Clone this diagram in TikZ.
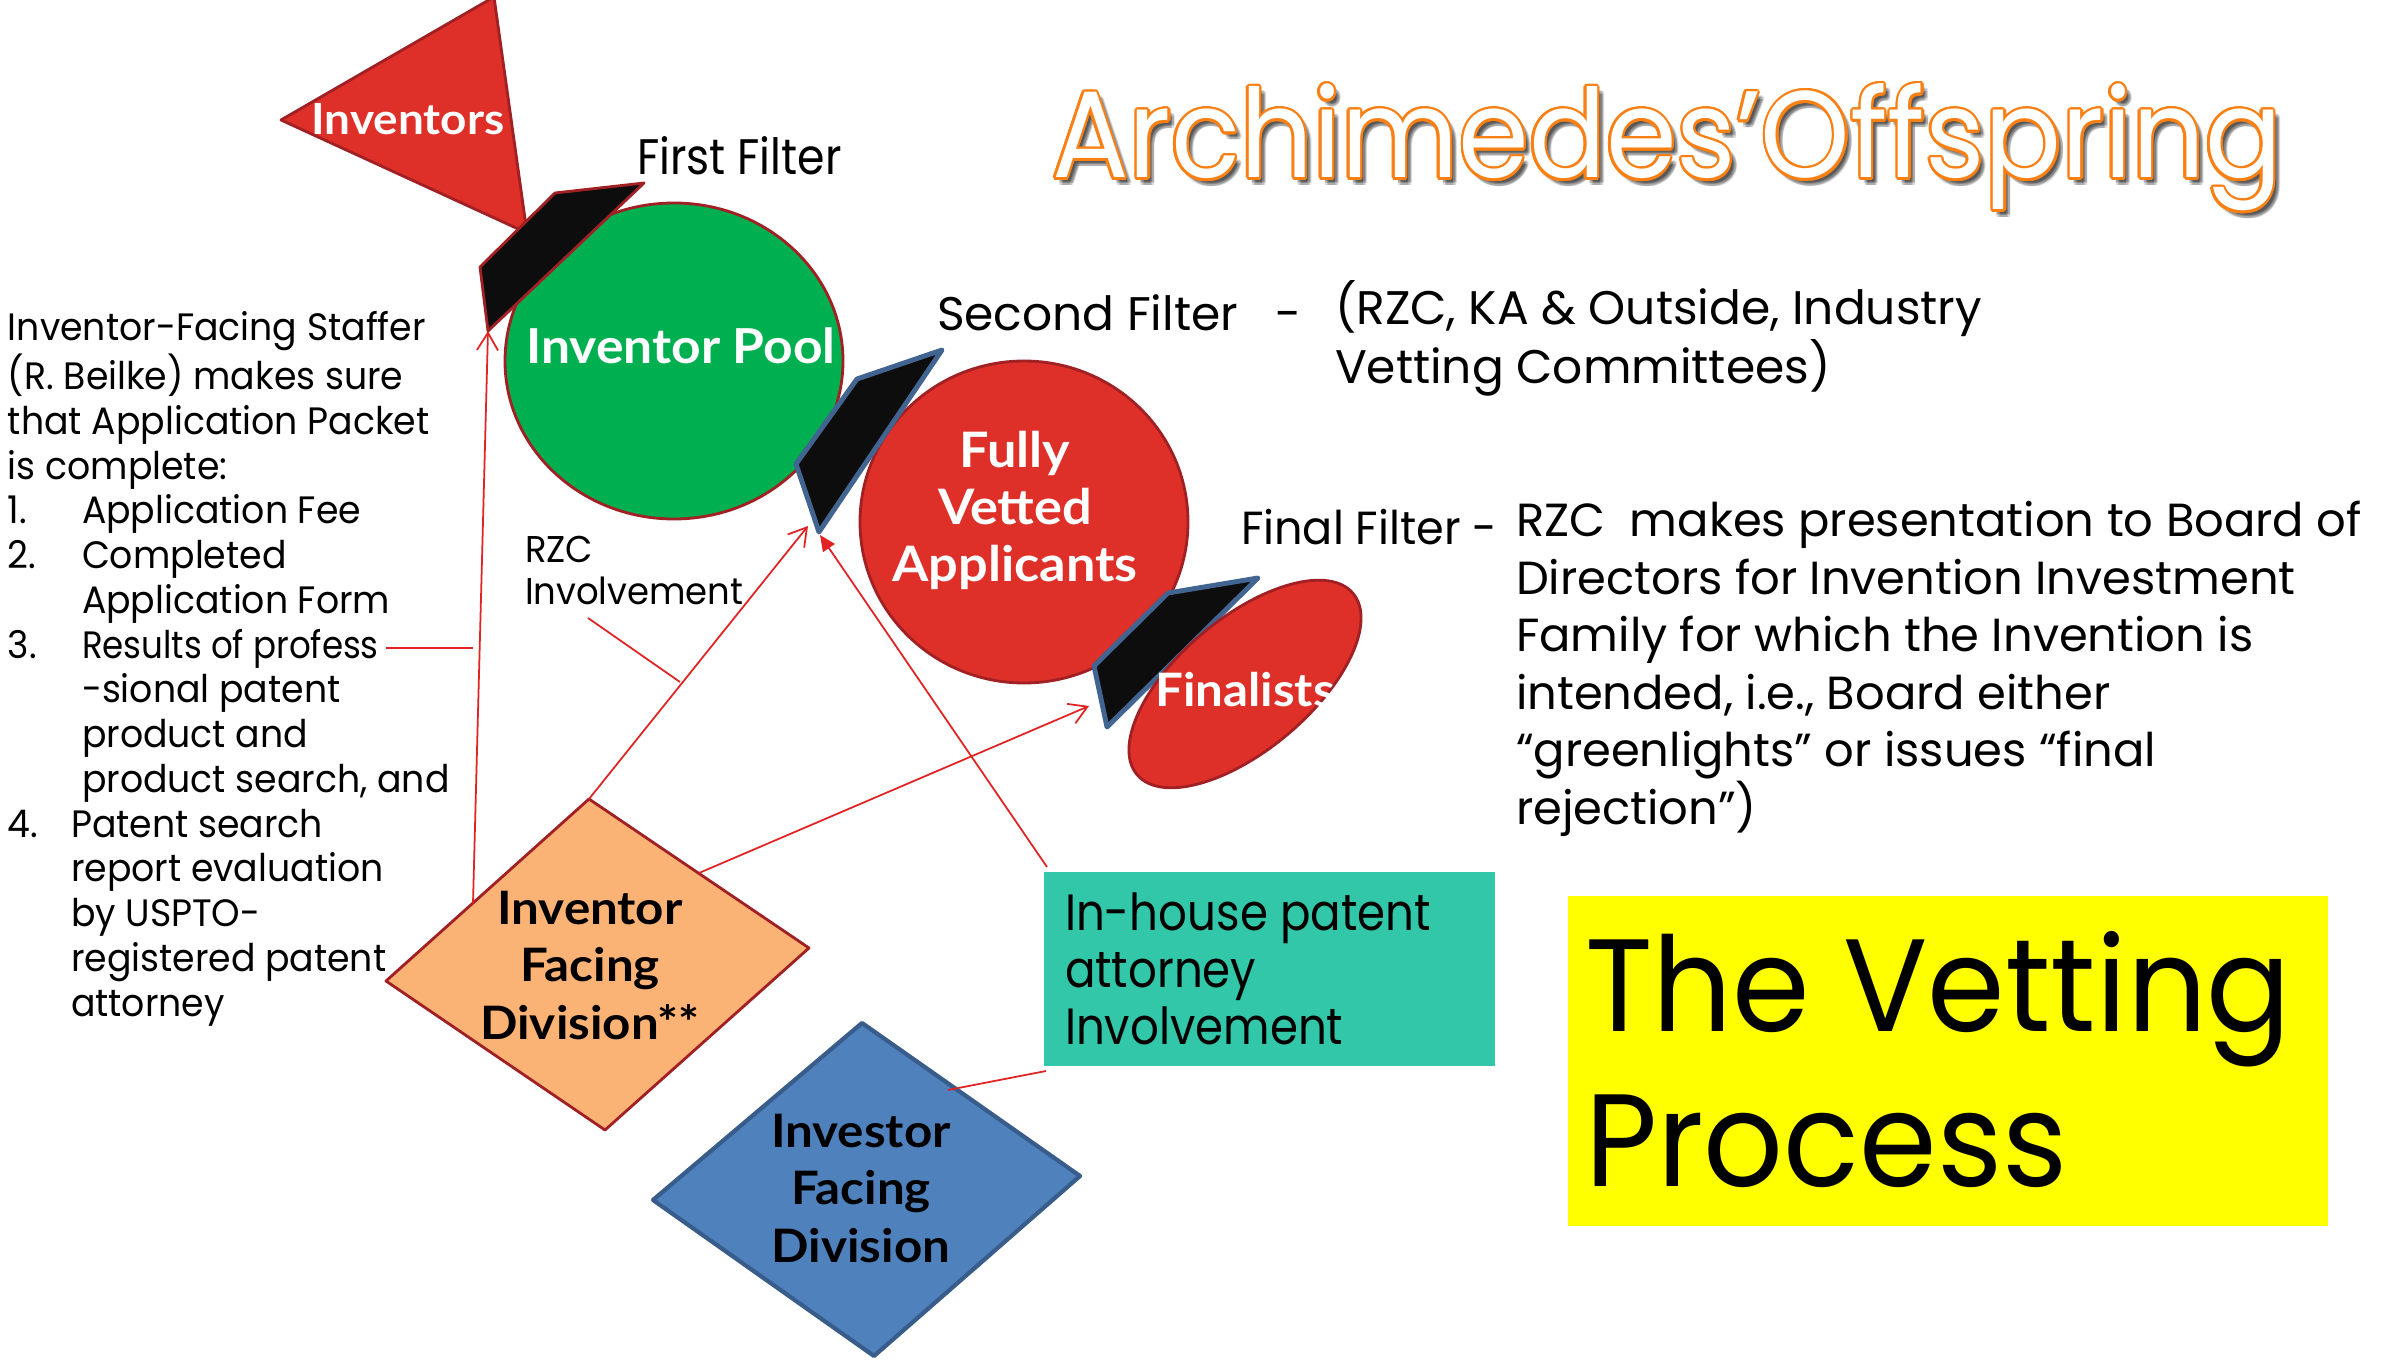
\documentclass[tikz,border=0pt]{standalone}
\usepackage{fontspec}
\setmainfont{Poppins}
\newfontfamily\labfont{Lato}[FakeStretch=1.07]
\newfontfamily\pA{Poppins}[FakeStretch=0.95]
\newfontfamily\pB{Poppins}[FakeStretch=0.885]
\newfontfamily\pT{Poppins}[FakeStretch=0.925]
\newfontfamily\pC{Poppins}[FakeStretch=0.96]
\usetikzlibrary{arrows.meta,calc}
\definecolor{cred}{RGB}{222,47,41}
\definecolor{cdred}{RGB}{160,32,36}
\definecolor{cgreen}{RGB}{0,176,80}
\definecolor{corange}{RGB}{251,178,117}
\definecolor{cblue}{RGB}{79,129,189}
\definecolor{cblueline}{RGB}{56,93,138}
\definecolor{cteal}{RGB}{51,199,170}
\definecolor{cyellow}{RGB}{255,255,0}
\definecolor{cfline}{RGB}{66,100,145}
\definecolor{carrow}{RGB}{225,35,35}
\definecolor{ctitle}{RGB}{250,128,20}
\newcommand{\fs}[2]{\fontsize{#1}{#2}\selectfont}
\newcommand{\ttl}{Archimedes’Offspring}
\newlength{\indA}\setlength{\indA}{0.74cm}
\newlength{\indB}\setlength{\indB}{0.63cm}
\tikzset{
  txt/.style={inner sep=0pt, outer sep=0pt, text=black},
  lab/.style={inner sep=0pt, outer sep=0pt, text=white, align=center},
  blab/.style={inner sep=0pt, outer sep=0pt, text=black, align=center},
  outl/.style={draw=cdred, line width=0.8pt, line join=round},
  filterA/.style={fill=black!95, draw=cdred, line width=0.8pt, line join=round},
  filterB/.style={fill=black!95, draw=cfline, line width=1.4pt, line join=round},
  conn/.style={draw=carrow, line width=0.5pt},
  openarrow/.style={conn, -{Straight Barb[length=5pt,width=6pt]}},
  fillarrow/.style={conn, -{Triangle[length=4.5pt,width=4pt]}},
  titlestyle/.style={inner sep=0pt, outer sep=0pt, anchor=base west, font=\pT\fs{35pt}{40pt}},
}
\begin{document}
\begin{tikzpicture}[x=0.01cm, y=-0.01cm]
\useasboundingbox (0,0) rectangle (2381,1361);
\fill[white] (0,0) rectangle (2381,1361);

% ---- shapes ----
\filldraw[fill=cred, outl] (281,120) -- (494,-3) -- (527,233) -- cycle;
\filldraw[fill=cgreen, outl] (674,361) ellipse [x radius=169, y radius=158];
\filldraw[filterA] (480,267) -- (555,193) -- (644,183) -- (488,331) -- cycle;
\filldraw[fill=cred, outl] (1024,522) ellipse [x radius=164, y radius=161];
\filldraw[filterB] (796,464) -- (857,379) -- (942,350) -- (819,532) -- cycle;
\filldraw[filterB] (1094,666) -- (1168,593) -- (1258,578) -- (1107,727) -- cycle;
\filldraw[fill=cred, outl, rotate around={40:(1245,684)}] (1245,684) ellipse [x radius=141, y radius=66];
\filldraw[fill=corange, outl] (589,799) -- (809,948) -- (605,1130) -- (386,981) -- cycle;
\filldraw[fill=cblue, draw=cblueline, line width=1.2pt, line join=round] (862,1023) -- (1080,1176) -- (874,1356) -- (653,1200) -- cycle;
\fill[cteal] (1044,872) rectangle (1495,1066);
\fill[cyellow] (1568,896) rectangle (2328,1226);

% ---- connector end points ----
\coordinate (f1b) at (488,331);
\coordinate (odUL) at (473,903);
\coordinate (odT) at (589,799);
\coordinate (f2tipA) at (808,526);
\coordinate (f2tipB) at (820,535);
\coordinate (tealTL) at (1047,867);
\coordinate (odUR) at (699,873);
\coordinate (f3tip) at (1089,706);
\coordinate (resA) at (386,648);
\coordinate (resB) at (473,648);
\coordinate (rzcA) at (588,618);
\coordinate (rzcB) at (680,682);
\coordinate (tealBL) at (1046,1071);
\coordinate (bdE) at (948,1090);

\draw[openarrow] (odUL) -- (f1b);
\draw[openarrow] (odT) -- (f2tipA);
\draw[fillarrow] (tealTL) -- (f2tipB);
\draw[openarrow] (odUR) -- (f3tip);
\draw[conn] (resA) -- (resB);
\draw[conn] (rzcA) -- (rzcB);
\draw[conn] (tealBL) -- (bdE);

% ---- labels in shapes (anchor base = last line) ----
\node[lab, anchor=base, font=\labfont\bfseries\fs{12.2pt}{15pt}] (tInv) at (408,135) {Inventors};
\node[lab, anchor=base, font=\labfont\bfseries\fs{13.7pt}{16pt}] (tPool) at (681,364) {Inventor Pool};
\node[lab, anchor=base, font=\labfont\bfseries\fs{13.9pt}{16.2pt}] (tFully) at (1015,581) {Fully\\Vetted\\Applicants};
\node[lab, anchor=base, font=\labfont\bfseries\fs{13.1pt}{16pt}] (tFin) at (1245,706) {Finalists};
\node[blab, anchor=base, font=\labfont\bfseries\fs{13.1pt}{16.3pt}] (tIFD) at (590,1039) {Inventor\\Facing\\Division**};
\node[blab, anchor=base, font=\labfont\bfseries\fs{13.1pt}{16.3pt}] (tInvFD) at (861,1262) {Investor\\Facing\\Division};

% ---- free texts ----
\node[txt, anchor=base west, font=\pB\fs{14.2pt}{17pt}] (tFirst) at (637,175) {First Filter};
\node[txt, anchor=base west, font=\fs{13.4pt}{15.8pt}] (tSecond) at (937,331) {Second Filter};
\node[txt, anchor=base west, font=\fs{13.4pt}{15.8pt}] (tDash) at (1275,331) {-};
\node[txt, anchor=base west, align=left, font=\fs{13.4pt}{15.8pt}] (tRZCKA) at (1335,384) {(RZC, KA \& Outside, Industry\\Vetting Committees)};
\node[txt, anchor=base west, font=\pC\fs{13.2pt}{16.3pt}] (tFinal) at (1241,545) {Final Filter -};
\node[txt, anchor=base west, align=left, font=\fs{13.2pt}{16.33pt}] (tBoard) at (1516,824) {RZC\ \ makes presentation to Board of\\Directors for Invention Investment\\Family for which the Invention is\\intended, i.e., Board either\\“greenlights” or issues “final\\rejection”)};
\node[txt, anchor=base west, align=left, font=\pA\fs{10.6pt}{11.8pt}] (tRZC) at (525,604) {RZC\\Involvement};
\node[txt, anchor=base west, align=left, font=\pB\fs{14.5pt}{16.07pt}] (tTeal) at (1065,1044) {In-house patent\\attorney\\Involvement};
\node[txt, anchor=base west, align=left, font=\pA\fs{37.4pt}{43.8pt}] (tVet) at (1585,1186) {The Vetting\\Process};
\node[txt, anchor=base west, align=left, font=\pA\fs{10.85pt}{12.72pt}] (tStaff) at (8,1016) {%
Inventor-Facing Staffer\\
(R. Beilke) makes sure\\
that Application Packet\\
is complete:\\
\makebox[\indA][l]{1.}Application Fee\\
\makebox[\indA][l]{2.}Completed\\
\hspace*{\indA}Application Form\\
\makebox[\indA][l]{3.}\scalebox{0.94}[1]{Results of profess}\\
\hspace*{\indA}-sional patent\\
\hspace*{\indA}product and\\
\hspace*{\indA}product search, and\\
\makebox[\indB][l]{4.}Patent search\\
\hspace*{\indB}report evaluation\\
\hspace*{\indB}by USPTO-\\
\hspace*{\indB}registered patent\\
\hspace*{\indB}attorney};

% ---- title ----
\foreach \a in {0,45,...,315} {
  \node[titlestyle, text=black, opacity=0.12, shift={(\a:2)}] at (1057,184) {\ttl};
}
\foreach \a in {0,20,...,340} {
  \node[titlestyle, text=ctitle, shift={(\a:2.4)}] at (1052,178) {\ttl};
}
\node[titlestyle, text=white] (title) at (1052,178) {\ttl};
\end{tikzpicture}
\end{document}
